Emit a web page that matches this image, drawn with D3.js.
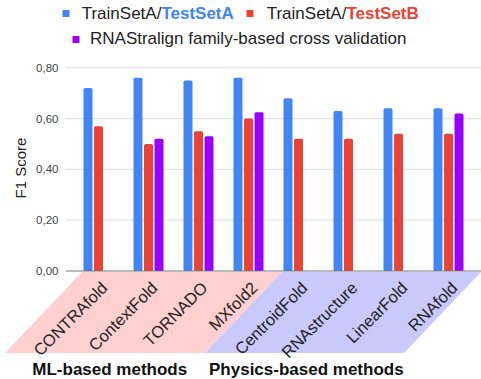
<!DOCTYPE html>
<html><head><meta charset="utf-8">
<script src="https://cdn.jsdelivr.net/npm/d3@7"></script>
<style>body{margin:0;background:#fff}svg{display:block;font-family:"Liberation Sans",Arial,sans-serif}</style>
</head><body><svg id="c" width="481" height="379"></svg>
<script>
const categories = ["CONTRAfold","ContextFold","TORNADO","MXfold2","CentroidFold","RNAstructure","LinearFold","RNAfold"];
const seriesNames = ["TrainSetA/TestSetA","TrainSetA/TestSetB","RNAStralign family-based cross validation"];
const testSetA = [0.72,0.76,0.75,0.76,0.68,0.63,0.64,0.64];
const testSetB = [0.57,0.50,0.55,0.60,0.52,0.52,0.54,0.54];
const crossVal = [null,0.52,0.53,0.625,null,null,null,0.62];
const seriesColors = ["#4285f4","#ea4335","#9900ff"];
const yTicks = [0,0.2,0.4,0.6,0.8];
const groupLabels = ["ML-based methods","Physics-based methods"];

const svg = d3.select("#c");
const x0 = d3.scaleBand().domain(categories).range([66,481]).paddingOuter(0.15).paddingInner(0);
const x1 = d3.scaleBand().domain([0,1,2]).range([-15,15]).paddingInner(0.143);
const y = d3.scaleLinear().domain([0,0.8]).range([271,67.7]);
const fmt = v => d3.format(".2f")(v).replace(".",",");

// background parallelograms
const bgTop = 272, bgBot = 353, slant = 77;
const splitX = 282;
[[82,splitX,"#ffd0d0"],[splitX,481,"#c9c9fc"]].forEach(([a,b,col])=>{
  svg.append("polygon").attr("points",[[a,bgTop],[b,bgTop],[b-slant,bgBot],[a-slant,bgBot]].map(p=>p.join(",")).join(" ")).attr("fill",col);
});

// gridlines
svg.append("g").selectAll("line").data(yTicks.filter(d=>d>0)).join("line")
  .attr("x1",66).attr("x2",481).attr("y1",d=>y(d)).attr("y2",d=>y(d))
  .attr("stroke","#e3e3e3").attr("stroke-width",1.3);
// y tick labels
svg.append("g").selectAll("text").data(yTicks).join("text")
  .attr("x",58.5).attr("y",d=>y(d)+4).attr("text-anchor","end")
  .attr("font-size",11.5).attr("fill","#444").text(fmt);

// bars
const allSeries = [testSetA,testSetB,crossVal];
const r = 1.5;
function barPath(x,yt,w,yb){
  return `M${x},${yb}V${yt+r}Q${x},${yt} ${x+r},${yt}H${x+w-r}Q${x+w},${yt} ${x+w},${yt+r}V${yb}Z`;
}
allSeries.forEach((vals,si)=>{
  svg.append("g").selectAll("path").data(categories.map((c,i)=>({c,v:vals[i]})).filter(d=>d.v!=null)).join("path")
    .attr("fill",seriesColors[si])
    .attr("d",d=>{
      const cx = x0(d.c)+x0.bandwidth()/2;
      return barPath(cx+x1(si), y(d.v), x1.bandwidth(), y(0));
    });
});
// axis baseline
svg.append("line").attr("x1",66).attr("x2",481).attr("y1",271).attr("y2",271).attr("stroke","#777").attr("stroke-width",1);

// category labels
svg.append("g").selectAll("text").data(categories).join("text")
  .attr("transform",d=>`translate(${x0(d)+x0.bandwidth()/2+10},289) rotate(-45)`)
  .attr("text-anchor","end").attr("font-size",16.5).attr("fill","#222").text(d=>d);

// y title
svg.append("text").attr("transform","translate(25.5,168) rotate(-90)").attr("text-anchor","middle")
  .attr("font-size",15).attr("fill","#222").text("F1 Score");

// group labels
svg.append("text").attr("x",32.3).attr("y",375).attr("font-size",17).attr("font-weight","bold").attr("fill","#111").text(groupLabels[0]);
svg.append("text").attr("x",209).attr("y",375).attr("font-size",17).attr("font-weight","bold").attr("fill","#111").text(groupLabels[1]);

// legend
const lg = svg.append("g").attr("font-size",17).attr("fill","#222");
function legendItem(sx,sy,tx,ty,col,name){
  lg.append("rect").attr("x",sx).attr("y",sy).attr("width",7).attr("height",7).attr("fill",col);
  const t = lg.append("text").attr("x",tx).attr("y",ty);
  const parts = name.split("/");
  if(parts.length===2){
    t.append("tspan").text(parts[0]+"/");
    t.append("tspan").attr("font-weight","bold").attr("fill",col).text(parts[1]);
  } else t.text(name);
}
legendItem(62.5,10,81.7,18.5,seriesColors[0],seriesNames[0]);
legendItem(246.5,10,266.7,18.5,seriesColors[1],seriesNames[1]);
legendItem(72.5,36,90,44,seriesColors[2],seriesNames[2]);
</script></body></html>
